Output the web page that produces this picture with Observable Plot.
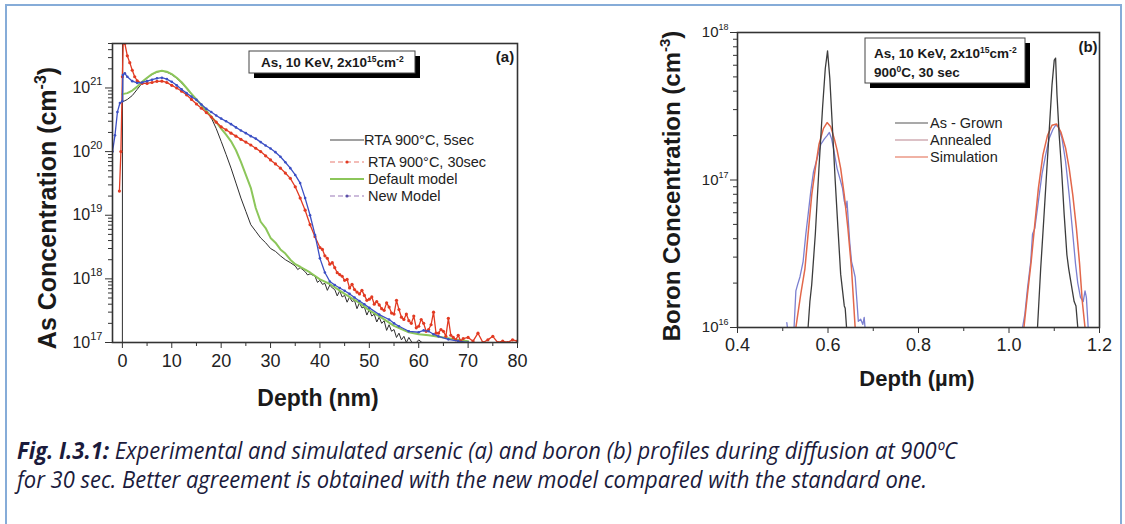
<!DOCTYPE html>
<html><head><meta charset="utf-8">
<script src="https://cdn.jsdelivr.net/npm/d3@7"></script>
<script src="https://cdn.jsdelivr.net/npm/@observablehq/plot@0.6"></script>
<style>
html,body{margin:0;padding:0;background:#fff;}
body{width:1125px;height:524px;position:relative;overflow:hidden;font-family:"Liberation Sans",Arial,sans-serif;}
#frame{position:absolute;left:5px;top:4px;width:1113px;height:540px;border:2px solid #86acd8;}
#a{position:absolute;left:0;top:0;}
#b{position:absolute;left:560px;top:0;}
#cap{position:absolute;left:17px;top:436px;font-family:"Open Sans",sans-serif;font-style:italic;font-size:23px;line-height:29px;color:#1b1b3c;white-space:nowrap;transform-origin:0 0;}
#cap div{display:inline-block;}
</style></head><body>
<div id="frame"></div>
<div id="a"></div><div id="b"></div>
<div id="cap"><div id="l1"><b>Fig. I.3.1:</b> Experimental and simulated arsenic (a) and boron (b) profiles during diffusion at 900ºC</div><br><div id="l2">for 30 sec. Better agreement is obtained with the new model compared with the standard one.</div></div>
<script>
// ---------- Panel (a): As profiles, depth (nm) vs concentration (cm^-3) ----------
const rta5s = [[0,1e17],[0.02,8e21],[0.1,6.1e20],[0.5,6.3e20],[1,6.6e20],[2,7.6e20],[3,9.5e20],[4,1.2e21],[5,1.43e21],[6,1.63e21],[7,1.78e21],[8,1.84e21],[9,1.78e21],[10,1.62e21],[11,1.42e21],[12,1.2e21],[13,9.8e20],[14,8e20],[15,6.5e20],[16,5.3e20],[17,4.3e20],[18,3.4e20],[19,2.3e20],[20,1.45e20],[21,9e19],[22,5.5e19],[23,3.2e19],[24,1.86e19],[25,1.15e19],[26,7.1e18],[27,5.6e18],[28,4.4e18],[29,3.7e18],[30,3.0e18],[31,2.7e18],[32,2.3e18],[33,2.0e18],[34,1.8e18],[35,1.6e18],[35.5,1.4e18],[36,1.5e18],[37,1.3e18],[37.5,1.15e18],[38,1.2e18],[39,1.1e18],[39.5,8.8e17],[40,9.5e17],[40.5,8.2e17],[41,8.5e17],[41.5,6.6e17],[42,8e17],[42.5,7.2e17],[43,6.8e17],[43.5,5.4e17],[44,6.5e17],[44.5,5.2e17],[45,5.5e17],[45.5,4.3e17],[46,5.2e17],[46.5,4.4e17],[47,4.6e17],[47.5,3.4e17],[48,4.2e17],[48.5,3.5e17],[49,3.6e17],[49.5,2.7e17],[50,3.3e17],[50.5,2.6e17],[51,2.8e17],[51.5,2.1e17],[52,2.5e17],[52.5,2.0e17],[53,2.2e17],[53.5,1.55e17],[54,1.9e17],[54.5,1.5e17],[55,1.6e17],[55.5,1.2e17],[56,1.4e17],[56.5,1.1e17],[57,1.25e17],[57.5,1e17],[58,1.2e17],[59,0.9e17],[60,1.1e17],[61,0.95e17]];
const rta30s = [[-0.6,2.4e19],[-0.3,1e20],[0,1.5e21],[0.2,6e21],[0.5,5e21],[1,3.2e21],[1.5,2.5e21],[2,1.9e21],[2.5,1.5e21],[3,1.3e21],[4,1.18e21],[5,1.18e21],[6,1.22e21],[7,1.27e21],[8,1.28e21],[9,1.22e21],[10,1.1e21],[11,1.0e21],[12,8.9e20],[13,7.8e20],[14,6.6e20],[15,5.6e20],[16,4.8e20],[17,4.1e20],[18,3.5e20],[19,2.9e20],[20,2.45e20],[21,2.2e20],[22,1.95e20],[23,1.75e20],[24,1.56e20],[25,1.41e20],[26,1.27e20],[27,1.13e20],[28,1.0e20],[29,8.6e19],[30,7.4e19],[31,6.4e19],[32,5.5e19],[33,4.6e19],[34,3.8e19],[35,2.8e19],[36,1.86e19],[37,1.2e19],[38,7.1e18],[39,4.6e18],[40,3.1e18],[40.5,2.9e18],[41,2.3e18],[41.5,2.1e18],[42,1.7e18],[42.5,1.8e18],[43,1.5e18],[43.5,1.25e18],[44,1.17e18],[44.5,1.1e18],[45,9.5e17],[45.5,9.8e17],[46,7.2e17],[46.5,8.2e17],[47,6.8e17],[47.5,6.2e17],[48,5.8e17],[48.5,6.6e17],[49,5.5e17],[49.5,4.6e17],[50,4.8e17],[50.5,5.2e17],[51,4.0e17],[51.5,4.4e17],[52,3.9e17],[52.5,3.4e17],[53,3.2e17],[53.5,4.2e17],[54,3.6e17],[54.5,2.9e17],[55,2.8e17],[55.5,4.6e17],[56,3.3e17],[56.5,2.5e17],[57,2.3e17],[57.5,2.8e17],[58,2.2e17],[58.5,2.0e17],[59,2.6e17],[59.5,1.7e17],[60,1.8e17],[60.5,2.3e17],[61,2.0e17],[61.5,1.5e17],[62,1.6e17],[62.5,1.9e17],[63,3.0e17],[63.5,1.4e17],[64,1.4e17],[64.5,1.6e17],[65,1.5e17],[65.5,1.25e17],[66,2.4e17],[66.5,1.3e17],[67,1.2e17],[67.5,1.1e17],[68,1.3e17],[68.5,1.05e17],[69,1.15e17],[70,1.2e17],[71,1.05e17],[72,1.4e17],[73,1.0e17],[74,1.1e17],[75,1.25e17],[76,1.0e17],[77,1.05e17],[78,1.0e17],[79,1.1e17],[80,1.05e17]];
const defaultModel = [[0,8e20],[1,8.3e20],[2,9.1e20],[3,1.05e21],[4,1.25e21],[5,1.45e21],[6,1.65e21],[7,1.8e21],[8,1.86e21],[9,1.8e21],[10,1.65e21],[11,1.45e21],[12,1.23e21],[13,1.0e21],[14,8.1e20],[15,6.6e20],[16,5.4e20],[17,4.4e20],[18,3.55e20],[19,2.9e20],[20,2.3e20],[21,1.85e20],[22,1.45e20],[23,1.05e20],[24,6.9e19],[25,4.3e19],[26,2.7e19],[27,1.3e19],[28,7.9e18],[29,6.3e18],[30,4.4e18],[31,3.7e18],[32,2.9e18],[33,2.5e18],[34,2.0e18],[35,1.7e18],[36,1.55e18],[37,1.4e18],[38,1.26e18],[40,9.8e17],[42,8.3e17],[45,5.8e17],[48,4.2e17],[50,3.2e17],[52,2.6e17],[55,1.82e17],[58,1.45e17],[60,1.35e17],[62,1.3e17],[65,1.2e17],[68,1.1e17],[70,1.05e17]];
const newModel = [[-2,1e20],[-1.5,1.8e20],[-1,4.2e20],[-0.5,5.8e20],[0,6.2e20],[0.1,1.6e21],[0.5,1.7e21],[1,1.5e21],[2,1.28e21],[3,1.2e21],[4,1.22e21],[5,1.28e21],[6,1.35e21],[7,1.42e21],[8,1.45e21],[9,1.38e21],[10,1.25e21],[11,1.1e21],[12,9.5e20],[13,8.3e20],[14,7.3e20],[15,6.5e20],[16,5.5e20],[17,4.7e20],[18,4.2e20],[19,3.7e20],[20,3.3e20],[21,3.0e20],[22,2.7e20],[23,2.4e20],[24,2.15e20],[25,1.95e20],[26,1.75e20],[27,1.6e20],[28,1.41e20],[29,1.25e20],[30,1.12e20],[31,9.8e19],[32,8.3e19],[33,6.8e19],[34,5.5e19],[35,4.3e19],[36,3.2e19],[37,1.86e19],[38,1e19],[39,4.9e18],[40,2.1e18],[41,1.26e18],[42,9.1e17],[43,8e17],[44,7.2e17],[45,6.5e17],[46,5.8e17],[47,5.1e17],[48,4.5e17],[49,4e17],[50,3.5e17],[52,2.75e17],[54,2.3e17],[55,2.0e17],[56,1.8e17],[58,1.5e17],[60,1.45e17],[61,1.55e17],[62,1.5e17],[63,1.35e17],[64,1.25e17],[66,1.12e17],[68,1.05e17],[70,1.0e17]];
const xTicksA = [0,10,20,30,40,50,60,70,80];
const xMinorA = [5,15,25,35,45,55,65,75];
const yTicksA = [1e17,1e18,1e19,1e20,1e21];
const legendA = ["RTA 900°C, 5sec","RTA 900°C, 30sec","Default model","New Model"];

// ---------- Panel (b): B profiles, depth (µm) vs concentration ----------
const asGrown = [[0.556,1e16],[0.560,1.5e16],[0.564,1.95e16],[0.572,4.3e16],[0.580,1.2e17],[0.588,3.1e17],[0.594,5.7e17],[0.599,7.5e17],[0.604,4.9e17],[0.610,2.2e17],[0.616,9.8e16],[0.622,4.7e16],[0.628,2.3e16],[0.636,1.4e16],[0.638,1.35e16],[0.641,1e16],[null,null],[1.063,1e16],[1.070,2.5e16],[1.077,5.5e16],[1.083,1.1e17],[1.089,2.2e17],[1.095,4.4e17],[1.100,6.5e17],[1.103,6.7e17],[1.106,3.8e17],[1.111,2.0e17],[1.116,1.2e17],[1.122,5.8e16],[1.128,3.1e16],[1.132,2.5e16],[1.136,2.1e16],[1.140,1.77e16],[1.144,1.5e16],[1.148,1.4e16],[1.152,1e16]];
const annealed = [[0.509,1.08e16],[0.512,9e15],[0.525,1e16],[0.529,1.77e16],[0.533,1.96e16],[0.538,2.2e16],[0.545,2.8e16],[0.551,4.3e16],[0.556,5.8e16],[0.562,8.4e16],[0.568,1.14e17],[0.576,1.4e17],[0.584,1.74e17],[0.592,1.9e17],[0.598,2.0e17],[0.603,2.1e17],[0.608,1.9e17],[0.612,1.65e17],[0.616,1.4e17],[0.620,1.2e17],[0.626,1.03e17],[0.632,8.8e16],[0.636,7.2e16],[0.640,6.5e16],[0.642,7.2e16],[0.645,5.2e16],[0.648,3.8e16],[0.652,2.8e16],[0.656,2.5e16],[0.660,2.2e16],[0.664,1.5e16],[0.667,1.1e16],[0.672,1.14e16],[0.677,1.05e16],[0.680,1.17e16],[0.683,9e15],[null,null],[1.030,1e16],[1.035,1.23e16],[1.041,1.86e16],[1.048,2.8e16],[1.052,4.3e16],[1.057,4.7e16],[1.065,7.2e16],[1.073,1.1e17],[1.081,1.48e17],[1.089,1.92e17],[1.097,2.2e17],[1.103,2.35e17],[1.109,2.3e17],[1.117,1.92e17],[1.125,1.34e17],[1.133,7.9e16],[1.141,4.3e16],[1.147,2.7e16],[1.152,2e16],[1.158,1.6e16],[1.164,1.5e16],[1.168,1.77e16],[1.171,1.6e16],[1.175,1e16]];
const simulation = [[0.529,1e16],[0.540,1.7e16],[0.549,2.5e16],[0.556,4.3e16],[0.564,7.9e16],[0.572,1.2e17],[0.580,1.74e17],[0.590,2.24e17],[0.598,2.45e17],[0.606,2.3e17],[0.614,1.9e17],[0.620,1.6e17],[0.628,1.2e17],[0.636,7.9e16],[0.644,4.7e16],[0.652,2.5e16],[0.660,1e16],[null,null],[1.033,1e16],[1.041,1.7e16],[1.049,2.8e16],[1.057,5e16],[1.065,8.8e16],[1.075,1.48e17],[1.085,2.0e17],[1.095,2.35e17],[1.105,2.4e17],[1.115,2.1e17],[1.125,1.65e17],[1.133,1.2e17],[1.141,7.9e16],[1.149,4.7e16],[1.156,2.7e16],[1.162,1.5e16],[1.168,1e16]];
const xTicksB = [0.4,0.6,0.8,1.0,1.2];
const xMinorB = [0.5,0.7,0.9,1.1];
const yTicksB = [1e16,1e17,1e18];
const legendB = ["As - Grown","Annealed","Simulation"];

const FONT = "Liberation Sans, Arial, sans-serif";
const toObj = arr => arr.map(([x,y]) => ({x, y}));
function minorLog(lo, hi){ const out=[]; for(let e=lo;e<hi;e++) for(let m=2;m<=9;m++) out.push(m*10**e); return out; }
const expFmt = d => "10^" + Math.round(Math.log10(d));

function supTicks(svg, supSize, dy){
  d3.select(svg).selectAll("text").each(function(){
    const m = this.textContent.match(/^10\^(\d+)$/);
    if(m){ const s=d3.select(this); s.text("10"); s.append("tspan").attr("dy",dy).attr("font-size",supSize).text(m[1]); }
  });
}
function addRich(g, parts, attrs){
  const t = g.append("text");
  for(const k in attrs) t.attr(k, attrs[k]);
  for(const p of parts){ const ts=t.append("tspan").text(p.t); if(p.dy) ts.attr("dy",p.dy); if(p.fs) ts.attr("font-size",p.fs); }
  return t;
}

// ---------- chart (a) ----------
const cA = {red:"#e23a22", blue:"#3b4fc4", green:"#8cc65a", black:"#2e2e2e"};
const svgA = Plot.plot({
  width:560, height:420, marginLeft:112, marginRight:43, marginTop:43, marginBottom:78,
  style:{fontFamily:FONT, fontSize:"17px", color:"#222", background:"transparent", overflow:"visible"},
  x:{domain:[-2,80]},
  y:{type:"log", domain:[1e17,5e21]},
  marks:[
    Plot.line(toObj(rta5s), {x:"x", y:"y", stroke:cA.black, strokeWidth:1, clip:true}),
    Plot.line(toObj(defaultModel), {x:"x", y:"y", stroke:cA.green, strokeWidth:2, clip:true}),
    Plot.line(toObj(rta30s), {x:"x", y:"y", stroke:cA.red, strokeWidth:1.3, clip:true}),
    Plot.dot(toObj(rta30s), {x:"x", y:"y", fill:cA.red, r:1.6, clip:true}),
    Plot.line(toObj(newModel), {x:"x", y:"y", stroke:cA.blue, strokeWidth:1.3, clip:true}),
    Plot.dot(toObj(newModel), {x:"x", y:"y", fill:cA.blue, r:1.3, clip:true}),
    Plot.axisX({ticks:xTicksA, tickSize:6, tickPadding:6, label:null, stroke:"#333", fontSize:18}),
    Plot.axisX({ticks:xMinorA, tickSize:4, tickFormat:()=>"", label:null, stroke:"#333"}),
    Plot.axisY({ticks:yTicksA, tickSize:7, tickPadding:3, tickFormat:expFmt, label:null, stroke:"#333", fontSize:16}),
    Plot.axisY({ticks:minorLog(17,21).concat([2e21,3e21,4e21,5e21]), tickSize:4, tickFormat:()=>"", label:null, stroke:"#333"}),
    Plot.frame({stroke:"#333", strokeWidth:1.6})
  ]
});
document.getElementById("a").appendChild(svgA);
supTicks(svgA, "11px", "-8");
{
  const g = d3.select(svgA).append("g").attr("font-family", FONT).attr("fill","#1a1a1a").attr("text-anchor","start");
  addRich(g, [{t:"As Concentration (cm"},{t:"-3",dy:-10,fs:"16px"},{t:")",dy:10}],
    {transform:"translate(56,208) rotate(-90)", "text-anchor":"middle", "font-size":"25px", "font-weight":"bold"});
  g.append("text").attr("x",318).attr("y",406).attr("text-anchor","middle").attr("font-size","23px").attr("font-weight","bold").text("Depth (nm)");
  // annotation box
  g.append("rect").attr("x",254).attr("y",56).attr("width",166).attr("height",22).attr("fill","#000");
  g.append("rect").attr("x",249).attr("y",51).attr("width",166).attr("height",22).attr("fill","#fff").attr("stroke","#444").attr("stroke-width",1);
  addRich(g, [{t:"As, 10 KeV, 2x10"},{t:"15",dy:-5,fs:"8.5px"},{t:"cm",dy:5},{t:"-2",dy:-5,fs:"8.5px"}],
    {x:261, y:67, "font-size":"13.5px", "font-weight":"bold"});
  g.append("text").attr("x",505).attr("y",62).attr("text-anchor","middle").attr("font-size","15px").attr("font-weight","bold").text("(a)");
  // legend
  const rows = [140,162,179,196];
  const styles = [
    {stroke:"#444", dash:null, w:1.2, dot:null},
    {stroke:"#e87a70", dash:"5,3", w:1.2, dot:"#e23a22"},
    {stroke:"#8cc65a", dash:null, w:2, dot:null},
    {stroke:"#9a78b8", dash:"5,3", w:1.2, dot:"#5a4fa8"}
  ];
  legendA.forEach((lab,i)=>{
    const y = rows[i], s = styles[i];
    const l = g.append("line").attr("x1",330).attr("x2",364).attr("y1",y).attr("y2",y).attr("stroke",s.stroke).attr("stroke-width",s.w);
    if(s.dash) l.attr("stroke-dasharray",s.dash);
    if(s.dot) g.append("circle").attr("cx",347).attr("cy",y).attr("r",1.6).attr("fill",s.dot);
    g.append("text").attr("x",i===0?364:368).attr("y",y).attr("dy","0.35em").attr("font-size","14.5px").attr("fill","#222").text(lab);
  });
}

// ---------- chart (b) ----------
const cB = {grown:"#3c3c3c", ann:"#7b7fd0", sim:"#e2674a"};
const svgB = Plot.plot({
  width:565, height:420, marginLeft:177, marginRight:26, marginTop:32, marginBottom:93,
  style:{fontFamily:FONT, fontSize:"18px", color:"#222", background:"transparent", overflow:"visible"},
  x:{domain:[0.4,1.2]},
  y:{type:"log", domain:[1e16,1e18]},
  marks:[
    Plot.line(toObj(annealed), {x:"x", y:"y", stroke:cB.ann, strokeWidth:1.3, clip:true}),
    Plot.line(toObj(simulation), {x:"x", y:"y", stroke:cB.sim, strokeWidth:1.5, clip:true}),
    Plot.line(toObj(asGrown), {x:"x", y:"y", stroke:cB.grown, strokeWidth:1.3, clip:true}),
    Plot.axisX({ticks:xTicksB, tickSize:6, tickPadding:5, tickFormat:d3.format(".1f"), label:null, stroke:"#333", fontSize:18}),
    Plot.axisX({ticks:xMinorB, tickSize:4, tickFormat:()=>"", label:null, stroke:"#333"}),
    Plot.axisY({ticks:yTicksB, tickSize:7, tickPadding:2, tickFormat:expFmt, label:null, stroke:"#333", fontSize:15}),
    Plot.axisY({ticks:minorLog(16,18), tickSize:4, tickFormat:()=>"", label:null, stroke:"#333"}),
    Plot.frame({stroke:"#333", strokeWidth:1.6})
  ]
});
document.getElementById("b").appendChild(svgB);
supTicks(svgB, "9px", "-7");
{
  const g = d3.select(svgB).append("g").attr("font-family", FONT).attr("fill","#1a1a1a").attr("text-anchor","start");
  addRich(g, [{t:"Boron Concentration (cm"},{t:"-3",dy:-10,fs:"15px"},{t:")",dy:10}],
    {transform:"translate(120,186) rotate(-90)", "text-anchor":"middle", "font-size":"24px", "font-weight":"bold"});
  g.append("text").attr("x",357).attr("y",386).attr("text-anchor","middle").attr("font-size","22px").attr("font-weight","bold").text("Depth (µm)");
  g.append("rect").attr("x",310).attr("y",43).attr("width",160).attr("height",45).attr("fill","#000");
  g.append("rect").attr("x",305).attr("y",38).attr("width",160).attr("height",45).attr("fill","#fff").attr("stroke","#444").attr("stroke-width",1);
  addRich(g, [{t:"As, 10 KeV, 2x10"},{t:"15",dy:-5,fs:"8.5px"},{t:"cm",dy:5},{t:"-2",dy:-5,fs:"8.5px"}],
    {x:314, y:58, "font-size":"13.5px", "font-weight":"bold"});
  addRich(g, [{t:"900"},{t:"0",dy:-5,fs:"8.5px"},{t:"C, 30 sec",dy:5}],
    {x:314, y:77, "font-size":"13.5px", "font-weight":"bold"});
  g.append("text").attr("x",528).attr("y",52).attr("text-anchor","middle").attr("font-size","15px").attr("font-weight","bold").text("(b)");
  const rows = [123,140,157];
  const cols = ["#555","#b9848e","#e2674a"];
  legendB.forEach((lab,i)=>{
    const y = rows[i];
    g.append("line").attr("x1",335).attr("x2",368).attr("y1",y).attr("y2",y).attr("stroke",cols[i]).attr("stroke-width",1.2);
    g.append("text").attr("x",370).attr("y",y).attr("dy","0.35em").attr("font-size","14.5px").attr("fill","#222").text(lab);
  });
}

// caption width fit
{
  const cap = document.getElementById("cap");
  const w = document.getElementById("l1").getBoundingClientRect().width;
  const k = 940 / w;
  cap.style.transform = "scaleX(" + k + ")";
}
</script>
</body></html>
